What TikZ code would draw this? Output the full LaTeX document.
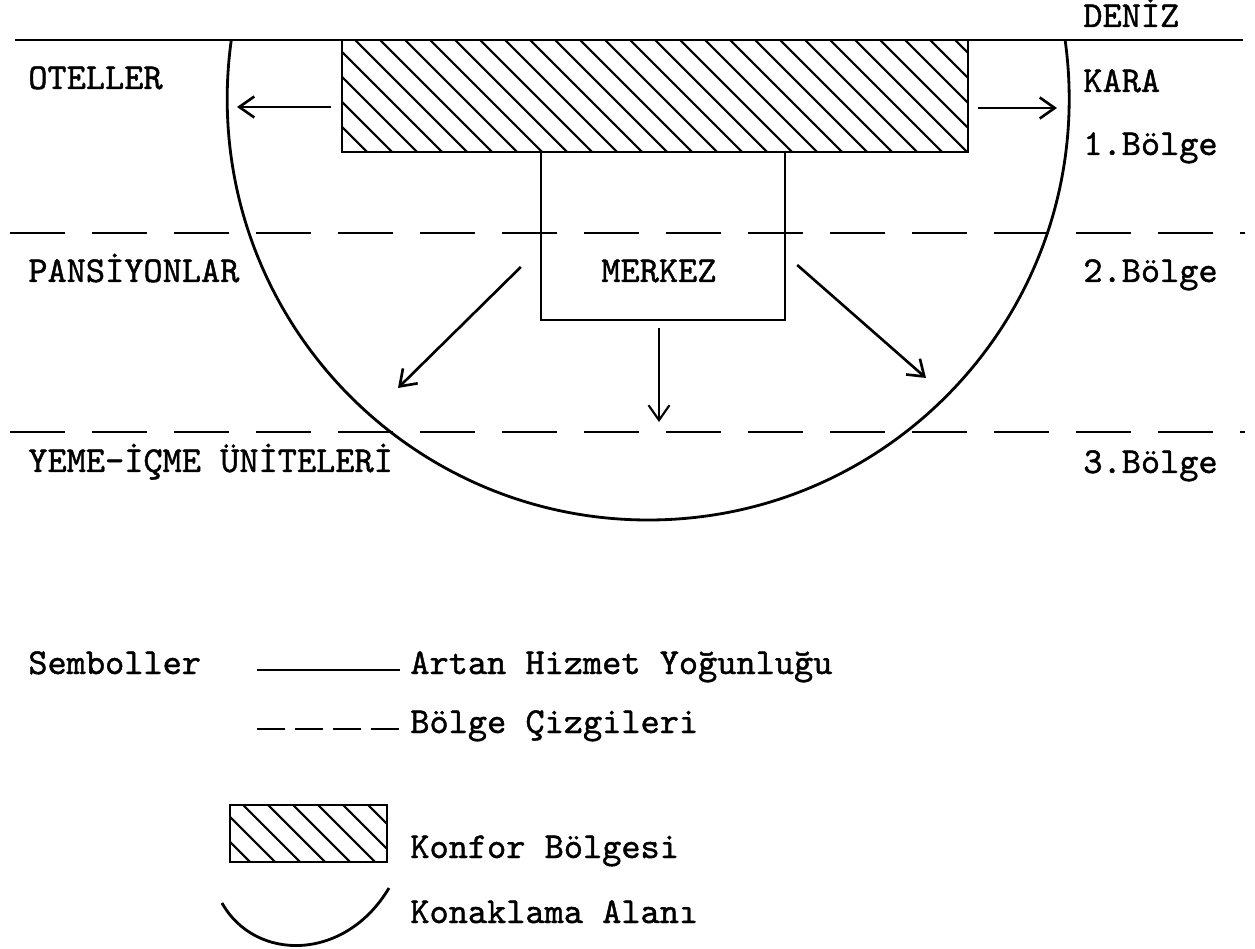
\documentclass[tikz,border=0pt]{standalone}
\usepackage{fontspec}
\usepackage{tikz}
\usetikzlibrary{arrows.meta,positioning,calc}
\newfontfamily\typew{lmmono10-regular.otf}[FakeBold=1.2]

\begin{document}
\begin{tikzpicture}[
          x=0.02cm, y=-0.02cm,
          txt/.style={font=\fontsize{20.8pt}{24pt}\selectfont\typew, anchor=base west, inner sep=0pt},
          heavy/.style={line width=1.7pt},
          zone/.style={line width=1.5pt, dash pattern=on 1.1cm off 0.54cm},
          arr/.style={line width=1.5pt, -{Straight Barb[length=0.3cm,width=0.42cm]}},
          hatchbox/.style={draw, line width=1.6pt, inner sep=0pt,
            path picture={
              \foreach \i in {-8,...,30}
                \draw[line width=1.2pt] ($(path picture bounding box.north west)+(\i*25+13,0)$) -- ++(150,150);
            }}
      ]
        \useasboundingbox (0,0) rectangle (1255,949);

        % Sea line and zone lines
        \draw[heavy] (15,40) -- (1243,40);
        \draw[zone] (10,233) -- (1245,233);
        \draw[zone] (10,432) -- (1245,432);

        % Accommodation area (circle below the sea line)
        \begin{scope}
          \clip (0,40) rectangle (1255,949);
          \draw[line width=1.6pt] (648.2,99) circle[radius=421];
        \end{scope}

        % Comfort zone and centre
        \node[hatchbox, minimum width=12.52cm, minimum height=2.24cm] (konfor) at (655,96) {};
        \node[draw, line width=1.4pt, minimum width=4.88cm, minimum height=3.36cm, inner sep=0pt] (merkez) at (663,236) {};
        \node[txt] (merkezlbl) at (601,282) {MERKEZ};

        % Arrows
        \coordinate (otelL) at (237,107);
        \coordinate (otelR) at (1057,108);
        \coordinate (pansL) at (398,388);
        \coordinate (pansR) at (926,378);
        \coordinate (yeme) at (659,422);
        \draw[arr] ($(konfor.west)+(-10,11)$) -- (otelL);
        \draw[arr] ($(konfor.east)+(9,12)$) -- (otelR);
        \draw[arr] ($(merkez.west)+(-19,31)$) -- (pansL);
        \draw[arr] ($(merkez.east)+(11,29)$) -- (pansR);
        \draw[arr, line width=1.2pt] ($(merkez.south)+(-4,7)$) -- (yeme);

        % Labels, left
        \node[txt] (oteller) at (28,89) {OTELLER};
        \node[txt] (pans) at (28,282) {PANSİYONLAR};
        \node[txt] (yemeicme) at (28,472) {YEME-İÇME ÜNİTELERİ};

        % Labels, right
        \node[txt] (deniz) at (1083,27) {DENİZ};
        \node[txt] (kara) at (1083,92) {KARA};
        \node[txt] (bolge1) at (1083,155) {1.Bölge};
        \node[txt] (bolge2) at (1083,282) {2.Bölge};
        \node[txt] (bolge3) at (1083,473) {3.Bölge};

        % Legend
        \node[txt] (semb) at (28,674) {Semboller};
        \draw[line width=1.5pt] (257,670) -- (400,670);
        \node[txt] (artan) at (410,674) {Artan Hizmet Yoğunluğu};

        \draw[line width=1.5pt, dash pattern=on 0.56cm off 0.2cm] (257,729) -- (400,729);
        \node[txt] (cizgi) at (410,733) {Bölge Çizgileri};

        \node[hatchbox, minimum width=3.14cm, minimum height=1.14cm] (konforlg) at (308.5,833.5) {};
        \node[txt] (konforlbl) at (410,858) {Konfor Bölgesi};

        \draw[line width=1.6pt] (222,903) .. controls (255,962) and (345,962) .. (389,888);
        \node[txt] (konak) at (410,923) {Konaklama Alanı};
      \end{tikzpicture}
\end{document}
